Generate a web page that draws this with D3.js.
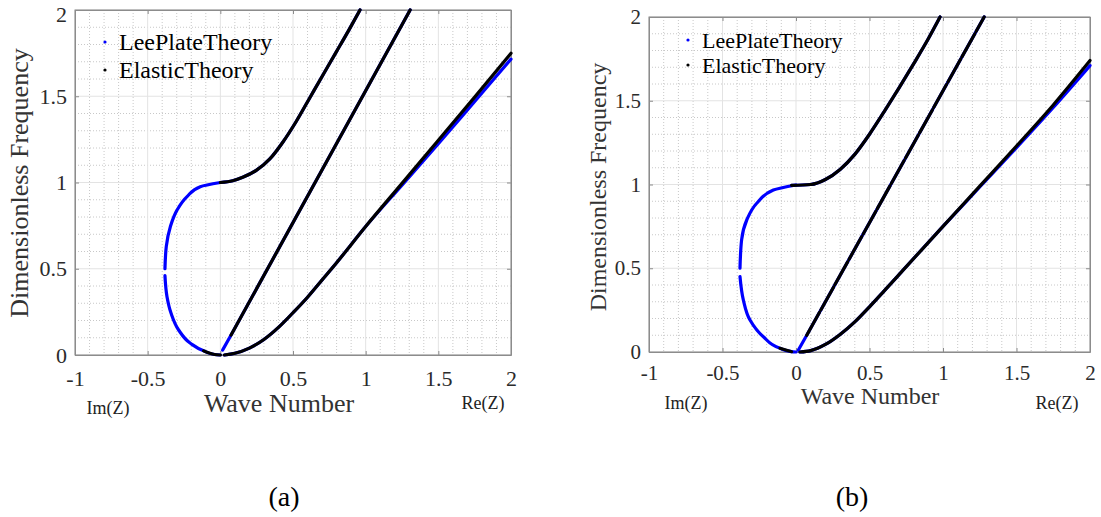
<!DOCTYPE html>
<html>
<head>
<meta charset="utf-8">
<title>Dispersion curves: Lee plate theory vs elastic theory</title>
<style>
  body { margin: 0; background: #fff; }
  svg text { font-family: "Liberation Serif", "Times New Roman", serif; }
</style>
</head>
<body>
<div id="container"></div>
<script src="https://cdn.jsdelivr.net/npm/d3@7"></script>
<script>
// Axis ticks and labels
const xTicks = [-1, -0.5, 0, 0.5, 1, 1.5, 2];
const yTicks = [0, 0.5, 1, 1.5, 2];
const xTickLabels = ["-1", "-0.5", "0", "0.5", "1", "1.5", "2"];
const yTickLabels = ["0", "0.5", "1", "1.5", "2"];
const legendNames = ["LeePlateTheory", "ElasticTheory"];
const panelNames = ["(a)", "(b)"];

// ---- panel (a), points are [wave number, frequency] ----
// imaginary branch is drawn on the negative side (Im(Z))
const leeImagUpperA = [[0, 1], [-0.138, 0.976], [-0.229, 0.918], [-0.298, 0.84], [-0.344, 0.744], [-0.372, 0.628], [-0.381, 0.5]];
const leeImagLowerA = [[-0.381, 0.46], [-0.367, 0.338], [-0.339, 0.242], [-0.287, 0.145], [-0.206, 0.068], [-0.115, 0.024], [-0.04, 0.003], [0, 0]];
const leeUpperA = [[0, 1], [0.085, 1.01], [0.154, 1.03], [0.247, 1.07], [0.339, 1.135], [0.431, 1.235], [0.523, 1.355], [0.615, 1.49], [0.707, 1.625], [0.8, 1.76], [0.892, 1.895], [0.961, 2.0]];
const leeStraightA = [[0.016, 0.029], [0.074, 0.116], [1.306, 2.0]];
const leeLowerA = [[0.028, 0], [0.1, 0.01], [0.2, 0.04], [0.3, 0.09], [0.4, 0.16], [0.5, 0.245], [0.6, 0.335], [0.7, 0.435], [0.8, 0.535], [1.0, 0.745], [1.25, 0.985], [1.5, 1.225], [1.75, 1.47], [2.0, 1.715]];

const elImagA = [[-0.115, 0.024], [-0.04, 0.003], [0, 0]];
const elUpperA = [[0, 1], [0.085, 1.01], [0.154, 1.03], [0.247, 1.07], [0.339, 1.135], [0.431, 1.235], [0.523, 1.355], [0.615, 1.49], [0.707, 1.625], [0.8, 1.76], [0.892, 1.895], [0.961, 2.0]];
const elStraightA = [[0.074, 0.116], [1.306, 2.0]];
const elLowerA = [[0.028, 0], [0.1, 0.01], [0.2, 0.04], [0.3, 0.09], [0.4, 0.16], [0.5, 0.245], [0.6, 0.335], [0.7, 0.435], [0.8, 0.535], [1.0, 0.745], [1.25, 0.995], [1.5, 1.245], [1.75, 1.495], [2.0, 1.749]];

// ---- panel (b) ----
const leeImagUpperB = [[0, 0.997], [-0.154, 0.967], [-0.267, 0.888], [-0.335, 0.788], [-0.37, 0.669], [-0.381, 0.5]];
const leeImagLowerB = [[-0.381, 0.45], [-0.358, 0.31], [-0.313, 0.191], [-0.222, 0.091], [-0.109, 0.022], [-0.03, 0.002], [0, 0]];
const leeUpperB = [[-0.03, 0.995], [0.1, 1.0], [0.2, 1.03], [0.3, 1.09], [0.4, 1.18], [0.5, 1.3], [0.6, 1.435], [0.7, 1.575], [0.8, 1.72], [0.9, 1.87], [0.98, 2.0]];
const leeStraightB = [[0.016, 0.012], [0.073, 0.1], [1.28, 2.0]];
const leeLowerB = [[0.027, 0], [0.1, 0.008], [0.2, 0.045], [0.3, 0.105], [0.4, 0.18], [0.5, 0.27], [0.6, 0.365], [0.73, 0.49], [1.0, 0.75], [1.25, 0.985], [1.5, 1.22], [1.75, 1.46], [2.0, 1.71]];

const elImagB = [[-0.109, 0.022], [-0.03, 0.002]];
const elUpperB = [[-0.03, 0.995], [0.1, 1.0], [0.2, 1.03], [0.3, 1.09], [0.4, 1.18], [0.5, 1.3], [0.6, 1.435], [0.7, 1.575], [0.8, 1.72], [0.9, 1.87], [0.98, 2.0]];
const elStraightB = [[0.073, 0.1], [1.28, 2.0]];
const elLowerB = [[0.027, 0], [0.1, 0.008], [0.2, 0.045], [0.3, 0.105], [0.4, 0.18], [0.5, 0.27], [0.6, 0.365], [0.73, 0.49], [1.0, 0.75], [1.25, 0.99], [1.5, 1.23], [1.75, 1.475], [2.0, 1.74]];

// branch order: loop upper, loop lower, upper, straight, lower
const leeA = [leeImagUpperA, leeImagLowerA, leeUpperA, leeStraightA, leeLowerA];
const elA = [elImagA, elUpperA, elStraightA, elLowerA];
const leeB = [leeImagUpperB, leeImagLowerB, leeUpperB, leeStraightB, leeLowerB];
const elB = [elImagB, elUpperB, elStraightB, elLowerB];

const width = 1101;
const height = 517;

const svg = d3.create("svg")
    .attr("width", width)
    .attr("height", height)
    .style("display", "block");

function drawPanel(p, lee, el) {
    const x = d3.scaleLinear().domain([-1, 2]).range([p.left, p.right]);
    const y = d3.scaleLinear().domain([0, 2]).range([p.bottom, p.top]);
    const g = svg.append("g");

    // minor grid (dotted), every 0.1
    const notMajor = v => Math.abs(v * 2 - Math.round(v * 2)) > 1e-6;
    const minorX = d3.range(-10, 21).map(i => i / 10).filter(notMajor);
    const minorY = d3.range(0, 21).map(i => i / 10).filter(notMajor);
    g.append("g").selectAll("line").data(minorX).join("line")
        .attr("x1", d => x(d)).attr("x2", d => x(d))
        .attr("y1", p.top).attr("y2", p.bottom)
        .attr("stroke", "#c8c8c8").attr("stroke-dasharray", "1 2");
    g.append("g").selectAll("line").data(minorY).join("line")
        .attr("y1", d => y(d)).attr("y2", d => y(d))
        .attr("x1", p.left).attr("x2", p.right)
        .attr("stroke", "#c8c8c8").attr("stroke-dasharray", "1 2");

    // major grid
    g.append("g").selectAll("line").data(xTicks).join("line")
        .attr("x1", d => x(d)).attr("x2", d => x(d))
        .attr("y1", p.top).attr("y2", p.bottom)
        .attr("stroke", "#e3e3e3");
    g.append("g").selectAll("line").data(yTicks).join("line")
        .attr("y1", d => y(d)).attr("y2", d => y(d))
        .attr("x1", p.left).attr("x2", p.right)
        .attr("stroke", "#e3e3e3");

    // axes with inward ticks
    const ax = g.append("g").attr("transform", `translate(0,${p.bottom})`)
        .call(d3.axisBottom(x).tickValues(xTicks).tickFormat((d, i) => xTickLabels[i])
            .tickSizeInner(-4).tickSizeOuter(0));
    const ay = g.append("g").attr("transform", `translate(${p.left},0)`)
        .call(d3.axisLeft(y).tickValues(yTicks).tickFormat((d, i) => yTickLabels[i])
            .tickSizeInner(-4).tickSizeOuter(0).tickPadding(8));
    g.append("g").attr("transform", `translate(0,${p.top})`)
        .call(d3.axisTop(x).tickValues(xTicks).tickFormat("").tickSizeInner(-4).tickSizeOuter(0));
    g.append("g").attr("transform", `translate(${p.right},0)`)
        .call(d3.axisRight(y).tickValues(yTicks).tickFormat("").tickSizeInner(-4).tickSizeOuter(0));
    g.selectAll(".domain, .tick line").attr("stroke", "#8c8c8c");
    g.selectAll(".tick text").attr("fill", "#2b2b2b").style("font-size", p.tickSize + "px")
        .style("font-family", "'Liberation Serif', serif");
    ax.selectAll(".tick text").attr("y", p.xTickOff).attr("dy", "0.35em");
    // keep the top "2" label inside the page
    ay.selectAll(".tick text").filter(d => d === 2).attr("dy", p.topDy);

    g.append("rect")
        .attr("x", p.left).attr("y", p.top)
        .attr("width", p.right - p.left).attr("height", p.bottom - p.top)
        .attr("fill", "none").attr("stroke", "#8c8c8c");

    // curves: loop halves are monotone in y, the rest in x
    const lineX = d3.line().x(d => x(d[0])).y(d => y(d[1])).curve(d3.curveMonotoneX);
    const lineY = d3.line().x(d => x(d[0])).y(d => y(d[1])).curve(d3.curveMonotoneY);
    const isLoop = d => d.length > 4 && d3.min(d, v => v[0]) < -0.3;
    const pathFor = d => isLoop(d) ? lineY(d) : lineX(d);
    const curves = g.append("g");
    curves.selectAll(".lee").data(lee).join("path")
        .attr("class", "lee")
        .attr("d", pathFor).attr("fill", "none")
        .attr("stroke", "#0000ff").attr("stroke-width", 3.2).attr("stroke-linecap", "round");
    curves.selectAll(".el").data(el).join("path")
        .attr("class", "el")
        .attr("d", pathFor).attr("fill", "none")
        .attr("stroke", "#000").attr("stroke-width", 3.2).attr("stroke-linecap", "round")
        .attr("stroke-dasharray", (d, i) => p.streaks && i === 2 ? "26 3" : null);

    // legend
    legendNames.forEach((name, i) => {
        g.append("circle")
            .attr("cx", p.legX).attr("cy", p.legY + i * p.legGap)
            .attr("r", 1.6).attr("fill", i === 0 ? "#0000ff" : "#000");
        g.append("text")
            .attr("x", p.legX + 14).attr("y", p.legY + i * p.legGap)
            .attr("dy", "0.35em").attr("fill", "#000")
            .style("font-size", p.legSize + "px").text(name);
    });

    // axis labels
    g.append("text")
        .attr("transform", `translate(${p.yLabX},${p.yLabY}) rotate(-90)`)
        .attr("text-anchor", "middle").attr("dy", "0.35em")
        .attr("fill", "#333").style("font-size", p.labSize + "px")
        .text("Dimensionless Frequency");
    g.append("text")
        .attr("x", p.xLabX).attr("y", p.xLabY)
        .attr("text-anchor", "middle").attr("dy", "0.35em")
        .attr("fill", "#333").style("font-size", p.labSize + "px")
        .text("Wave Number");
    g.append("text")
        .attr("x", p.imX).attr("y", p.imY)
        .attr("text-anchor", "middle").attr("dy", "0.35em")
        .attr("fill", "#222").style("font-size", "18px")
        .text("Im(Z)");
    g.append("text")
        .attr("x", p.reX).attr("y", p.reY)
        .attr("text-anchor", "middle").attr("dy", "0.35em")
        .attr("fill", "#222").style("font-size", "18px")
        .text("Re(Z)");
    g.append("text")
        .attr("x", p.capX).attr("y", 496)
        .attr("text-anchor", "middle").attr("dy", "0.35em")
        .attr("fill", "#000").style("font-size", "28px")
        .text(p.caption);
}

drawPanel({
    left: 75, right: 511, top: 10, bottom: 355,
    tickSize: 22, labSize: 26, legSize: 24, xTickOff: 23, topDy: "0.5em",
    legX: 105, legY: 42, legGap: 28,
    yLabX: 19, yLabY: 183, xLabX: 279, xLabY: 403,
    imX: 108, imY: 408, reX: 483, reY: 403,
    capX: 284, caption: panelNames[0], streaks: false
}, leeA, elA);

drawPanel({
    left: 649, right: 1090, top: 17, bottom: 352,
    tickSize: 21, labSize: 24, legSize: 22, xTickOff: 21, topDy: "0.32em",
    legX: 688, legY: 40, legGap: 25,
    yLabX: 598, yLabY: 187, xLabX: 870, xLabY: 396,
    imX: 686, imY: 403, reX: 1057, reY: 403,
    capX: 852, caption: panelNames[1], streaks: true
}, leeB, elB);

container.append(svg.node());
</script>
</body>
</html>
